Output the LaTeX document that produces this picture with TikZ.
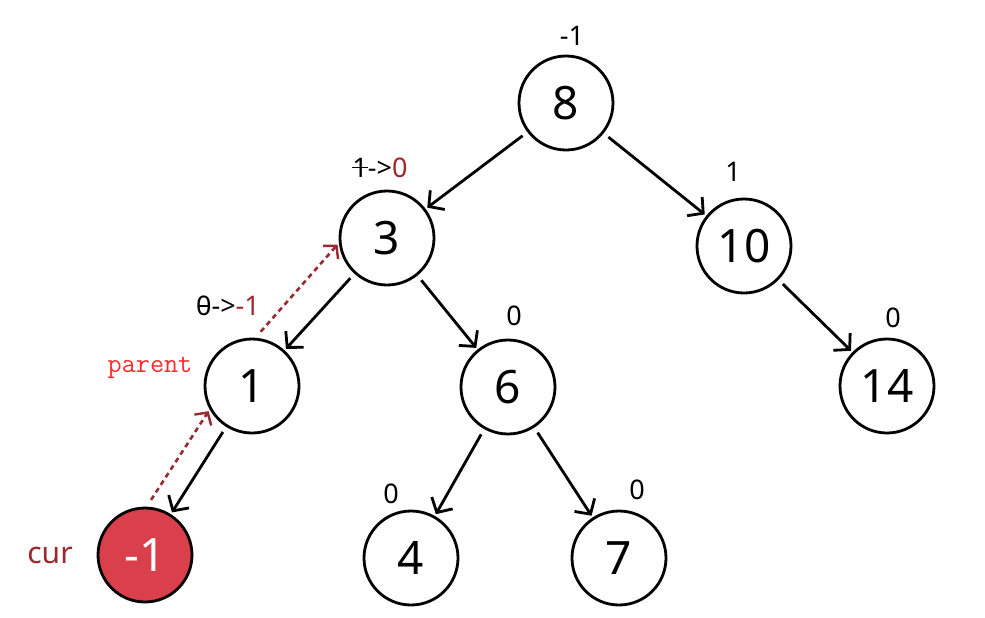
\documentclass[tikz,border=0pt]{standalone}
\usepackage{fontspec}
\setmainfont{Noto Sans}
\usetikzlibrary{arrows.meta}
\definecolor{dred}{HTML}{9B2A30}
\definecolor{nodered}{HTML}{D9404C}
\definecolor{pred}{HTML}{FF2A2A}
\newcommand\strk[2]{\ooalign{#1\cr\hidewidth\rule[0.34em]{#2}{0.07em}\hidewidth\cr}}
\begin{document}
\begin{tikzpicture}[x=0.5pt,y=-0.5pt,
  tn/.style={circle,draw=black,line width=1.4pt,minimum size=47pt,inner sep=0pt,font=\fontsize{23}{23}\selectfont},
  curnode/.style={tn,fill=nodered,text=white},
  edge/.style={-{Straight Barb[length=5.5pt,width=12pt,line width=1.4pt]},line width=1.4pt,shorten <=3pt,shorten >=1pt},
  dedge/.style={-{Straight Barb[length=4.5pt,width=10pt,line width=1.2pt]},line width=1.3pt,dred,dash pattern=on 2.5pt off 2pt,shorten <=4pt,shorten >=1pt},
  lbl/.style={font=\fontsize{13.5}{13.5}\selectfont,inner sep=0pt}]
\useasboundingbox (0,0) rectangle (985,617);
\fill[white] (0,0) rectangle (985,617);
% nodes
\node[tn] (n8) at (566,103) {8};
\node[tn] (n3) at (387,238) {3};
\node[tn] (n10) at (744,246) {10};
\node[tn] (n1) at (252,386) {1};
\node[tn] (n6) at (508,387) {6};
\node[tn] (n14) at (887,386) {14};
\node[curnode] (nm1) at (145,555) {-1};
\node[tn] (n4) at (411,558) {4};
\node[tn] (n7) at (619,558) {7};
% edges
\draw[edge] (n8) -- (n3);
\draw[edge] (n8) -- (n10);
\draw[edge] (n3) -- (n1);
\draw[edge] (n3) -- (n6);
\draw[edge] (n10) -- (n14);
\draw[edge] (n1) -- (nm1);
\draw[edge] (n6) -- (n4);
\draw[edge] (n6) -- (n7);
% dashed parent pointers
\draw[dedge] (nm1.88) -- (n1.209);
\draw[dedge] (n1.86) -- (n3.186);
% balance labels
\node[lbl] (l8) at (572,36) {-1};
\node[lbl] (l3) at (380,168) {\strk{1}{0.6em}->\textcolor{dred}{0}};
\node[lbl] (l10) at (733,172) {1};
\node[lbl] (l1) at (228,306) {\strk{0}{0.42em}->\textcolor{dred}{-1}};
\node[lbl] (l6) at (514,316) {0};
\node[lbl] (l14) at (893,318) {0};
\node[lbl] (l4) at (391,494) {0};
\node[lbl] (l7) at (637,490) {0};
\node[font=\ttfamily\fontsize{13.7}{13.7}\selectfont,text=pred,inner sep=0pt] (lp) at (150,368) {parent};
\node[font=\fontsize{15}{15}\selectfont,text=dred,inner sep=0pt] (lc) at (50,555) {cur};
\end{tikzpicture}
\end{document}
